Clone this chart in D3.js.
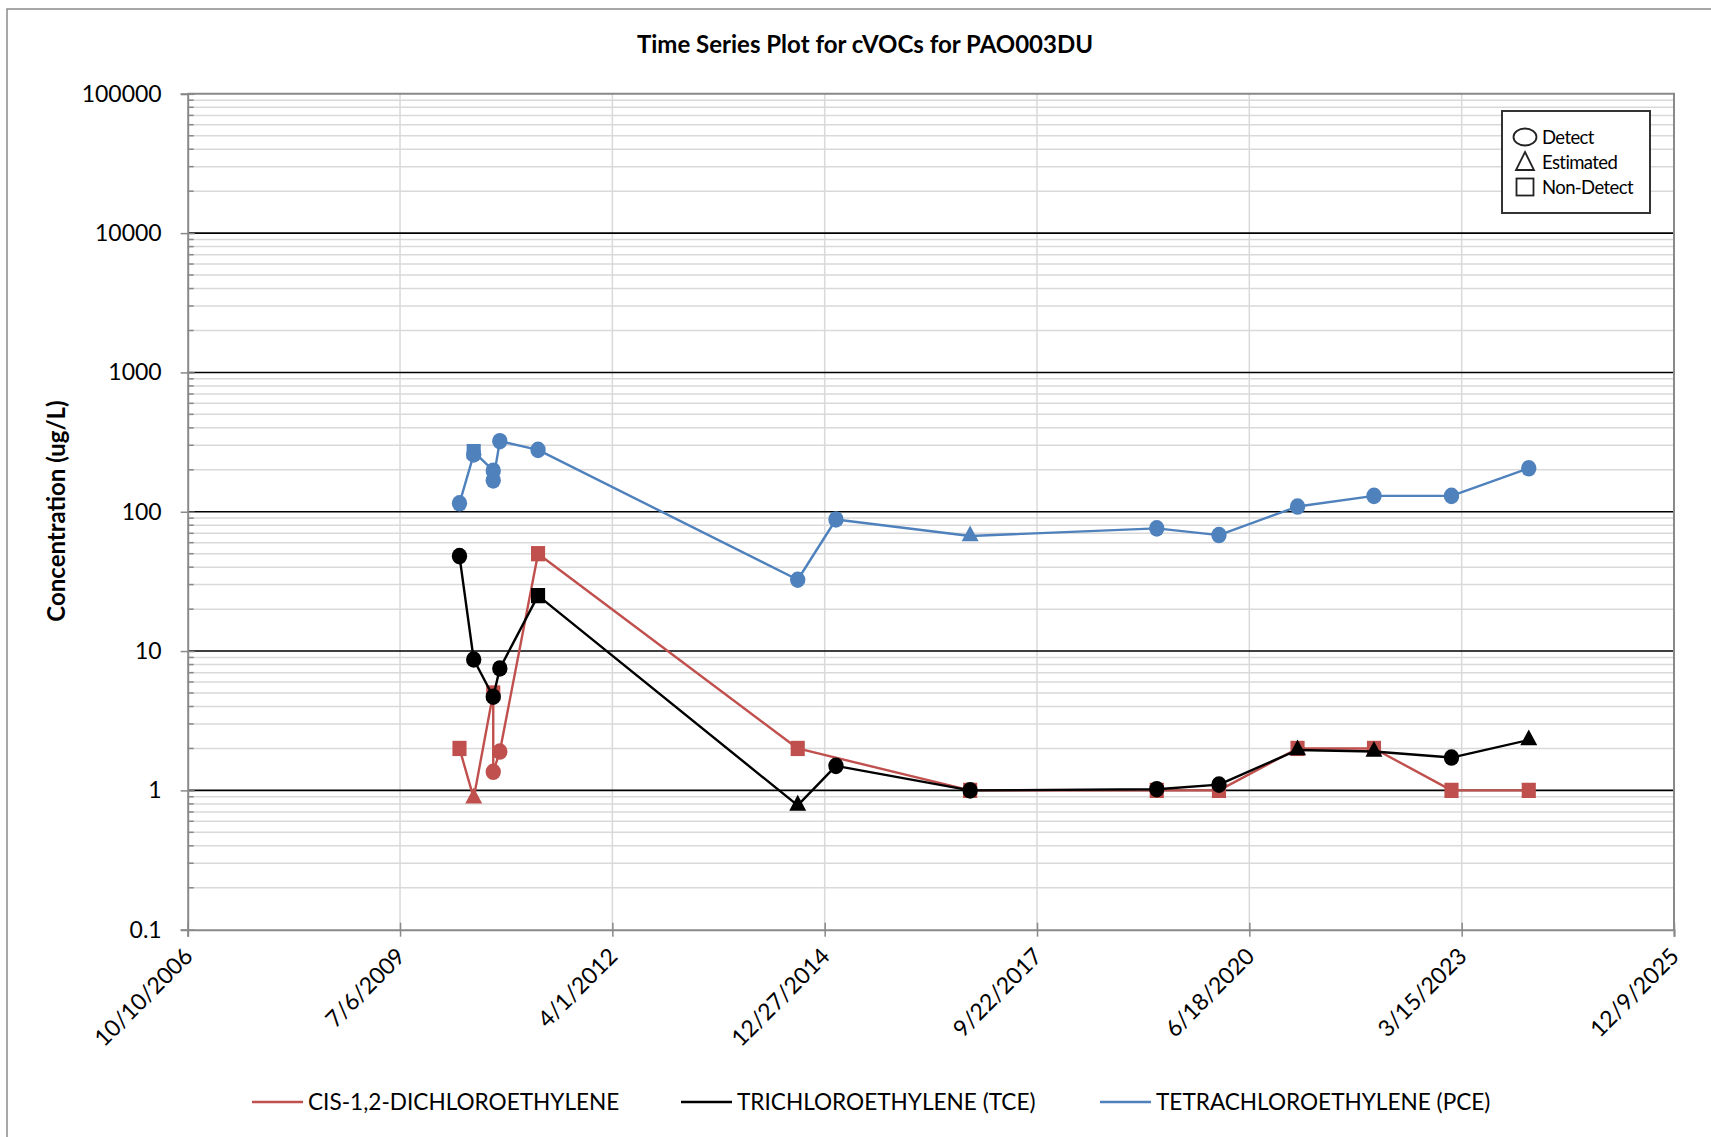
<!DOCTYPE html>
<html>
<head>
<meta charset="utf-8">
<script src="https://cdn.jsdelivr.net/npm/d3@7"></script>
<style>
  html, body { margin: 0; padding: 0; background: #fff; }
  svg { display: block; }
  text { font-family: Lato, "Open Sans", sans-serif; fill: #000; }
</style>
</head>
<body>
<svg id="chart" width="1711" height="1137"></svg>
<script>
// ---------------- DATA ----------------
const chartTitle = "Time Series Plot for cVOCs for PAO003DU";
const yAxisTitle = "Concentration (ug/L)";

const xTickLabels = ["10/10/2006", "7/6/2009", "4/1/2012", "12/27/2014", "9/22/2017", "6/18/2020", "3/15/2023", "12/9/2025"];
const yTickValues = [0.1, 1, 10, 100, 1000, 10000, 100000];
const yTickLabels = ["0.1", "1", "10", "100", "1000", "10000", "100000"];

const seriesNames = ["CIS-1,2-DICHLOROETHYLENE", "TRICHLOROETHYLENE (TCE)", "TETRACHLOROETHYLENE (PCE)"];
const seriesColors = ["#C0504D", "#000000", "#4F81BD"];

// flags: D = Detect (circle), E = Estimated (triangle), N = Non-Detect (square)
const dceDates  = ["2010-04-12", "2010-06-18", "2010-09-18", "2010-09-18", "2010-10-19", "2011-04-17", "2014-08-22", "2016-11-11", "2019-04-09", "2020-01-27", "2021-01-31", "2022-01-26", "2023-01-26", "2024-01-25"];
const dceValues = [2, 0.88, 5, 1.36, 1.9, 50, 2, 1, 1, 1, 2, 2, 1, 1];
const dceFlags  = ["N", "E", "N", "D", "D", "N", "N", "N", "N", "N", "N", "N", "N", "N"];

const tceDates  = ["2010-04-12", "2010-06-18", "2010-09-18", "2010-10-19", "2011-04-17", "2014-08-22", "2015-02-18", "2016-11-11", "2019-04-09", "2020-01-27", "2021-01-31", "2022-01-26", "2023-01-26", "2024-01-25"];
const tceValues = [48, 8.7, 4.7, 7.5, 25, 0.78, 1.5, 1.0, 1.02, 1.1, 1.95, 1.9, 1.72, 2.3];
const tceFlags  = ["D", "D", "D", "D", "N", "E", "D", "D", "D", "D", "E", "E", "D", "E"];

const pceDates  = ["2010-04-12", "2010-06-18", "2010-06-18", "2010-09-18", "2010-09-18", "2010-10-19", "2011-04-17", "2014-08-22", "2015-02-18", "2016-11-11", "2019-04-09", "2020-01-27", "2021-01-31", "2022-01-26", "2023-01-26", "2024-01-25"];
const pceValues = [115, 258, 270, 197, 168, 321, 278, 32.5, 88, 67, 76, 68, 109, 130, 130, 205];
const pceFlags  = ["D", "D", "N", "D", "D", "D", "D", "D", "D", "E", "D", "D", "D", "D", "D", "D"];

const qualifierLabels = ["Detect", "Estimated", "Non-Detect"];

// ---------------- LAYOUT ----------------
const svg = d3.select("#chart");
const parseTick = d3.utcParse("%m/%d/%Y");
const parseISO = d3.utcParse("%Y-%m-%d");
const fmtTick = d3.utcFormat("%-m/%-d/%Y");

const plot = { left: 187.7, right: 1674, top: 93.8, bottom: 929.7 };
const tickDates = xTickLabels.map(parseTick);

const x = d3.scaleUtc().domain([tickDates[0], tickDates[tickDates.length - 1]]).range([plot.left, plot.right]);
const y = d3.scaleLog().domain([0.1, 100000]).range([plot.bottom, plot.top]);

// outer chart border
svg.append("rect").attr("x", 7).attr("y", 9).attr("width", 1800).attr("height", 1300)
  .attr("fill", "none").attr("stroke", "#8c8c8c").attr("stroke-width", 1.5);

// minor horizontal gridlines
const minorVals = [];
for (let e = -1; e < 5; e++) for (let m = 2; m <= 9; m++) minorVals.push(m * Math.pow(10, e));
svg.append("g").selectAll("line").data(minorVals).join("line")
  .attr("x1", plot.left).attr("x2", plot.right)
  .attr("y1", d => y(d)).attr("y2", d => y(d))
  .attr("stroke", "#d9d9d9").attr("stroke-width", 1.5);

// vertical gridlines
svg.append("g").selectAll("line").data(tickDates.slice(1, -1)).join("line")
  .attr("x1", d => x(d)).attr("x2", d => x(d))
  .attr("y1", plot.top).attr("y2", plot.bottom)
  .attr("stroke", "#d9d9d9").attr("stroke-width", 1.5);

// major horizontal gridlines
svg.append("g").selectAll("line").data(yTickValues.slice(1, -1)).join("line")
  .attr("x1", plot.left).attr("x2", plot.right)
  .attr("y1", d => y(d)).attr("y2", d => y(d))
  .attr("stroke", "#000").attr("stroke-width", 1.6);

// plot border top/right
svg.append("path")
  .attr("d", `M${plot.left},${plot.top}H${plot.right}V${plot.bottom}`)
  .attr("fill", "none").attr("stroke", "#898989").attr("stroke-width", 2);

// minor ticks on y axis (inside)
svg.append("g").selectAll("line").data(minorVals).join("line")
  .attr("x1", plot.left).attr("x2", plot.left + 6)
  .attr("y1", d => y(d)).attr("y2", d => y(d))
  .attr("stroke", "#898989").attr("stroke-width", 1.5);

// Y axis
const yAxis = svg.append("g").attr("transform", `translate(${plot.left},0)`)
  .call(d3.axisLeft(y).tickValues(yTickValues).tickFormat((d, i) => yTickLabels[i]).tickSize(7).tickPadding(19));
yAxis.select(".domain").attr("stroke", "#898989").attr("stroke-width", 2);
yAxis.selectAll(".tick line").attr("stroke", "#898989").attr("stroke-width", 1.5).attr("x2", -7).attr("x1", 7);
yAxis.selectAll(".tick text").attr("font-family", "Lato").attr("font-size", 23).attr("fill", "#000");

// X axis
const xAxis = svg.append("g").attr("transform", `translate(0,${plot.bottom})`)
  .call(d3.axisBottom(x).tickValues(tickDates).tickFormat(fmtTick).tickSize(7).tickPadding(6));
xAxis.select(".domain").attr("stroke", "#898989").attr("stroke-width", 2);
xAxis.selectAll(".tick line").attr("stroke", "#898989").attr("stroke-width", 1.5).attr("y1", -7).attr("y2", 7);
xAxis.selectAll(".tick text")
  .attr("font-family", "Lato").attr("font-size", 23).attr("fill", "#000")
  .attr("text-anchor", "end")
  .attr("dy", 0).attr("y", 0)
  .attr("transform", "translate(6,28) rotate(-45)");

// Title
svg.append("text").attr("x", 865).attr("y", 53).attr("text-anchor", "middle")
  .attr("font-weight", "bold").attr("font-size", 24).text(chartTitle);

// Y axis title
svg.append("text").attr("transform", "translate(65,511) rotate(-90)")
  .attr("text-anchor", "middle").attr("font-weight", "bold").attr("font-size", 24).text(yAxisTitle);

// ---------------- SERIES ----------------
const series = [
  { dates: dceDates, values: dceValues, flags: dceFlags },
  { dates: tceDates, values: tceValues, flags: tceFlags },
  { dates: pceDates, values: pceValues, flags: pceFlags }
].map((s, i) => ({
  name: seriesNames[i], color: seriesColors[i],
  pts: s.dates.map((d, j) => ({ date: parseISO(d), value: s.values[j], flag: s.flags[j] }))
}));

const line = d3.line().x(d => x(d.date)).y(d => y(d.value));
const symFor = f => f === "D" ? d3.symbol(d3.symbolCircle, 185)
  : f === "E" ? d3.symbol(d3.symbolTriangle, 125)
  : d3.symbol(d3.symbolSquare, 200);

series.forEach(s => {
  const g = svg.append("g");
  g.append("path").datum(s.pts).attr("d", line)
    .attr("fill", "none").attr("stroke", s.color).attr("stroke-width", 2.4).attr("stroke-linejoin", "round");
  g.selectAll("path.m").data(s.pts).join("path").attr("class", "m")
    .attr("transform", d => `translate(${x(d.date)},${y(d.value)}) scale(1,1.08)`)
    .attr("d", d => symFor(d.flag)())
    .attr("fill", s.color);
});

// ---------------- QUALIFIER LEGEND ----------------
const ql = svg.append("g");
ql.append("rect").attr("x", 1502).attr("y", 111).attr("width", 148).attr("height", 102)
  .attr("fill", "#fff").attr("stroke", "#333").attr("stroke-width", 2);
const qShapes = [
  g => g.append("ellipse").attr("cx", 0).attr("cy", 0).attr("rx", 11.5).attr("ry", 8.5),
  g => g.append("path").attr("d", "M0,-10L9,8L-9,8Z"),
  g => g.append("rect").attr("x", -8.5).attr("y", -8.5).attr("width", 17).attr("height", 17)
];
qualifierLabels.forEach((lab, i) => {
  const cy = 137 + i * 25;
  const g = ql.append("g").attr("transform", `translate(1525,${cy})`);
  qShapes[i](g).attr("fill", "none").attr("stroke", "#222").attr("stroke-width", 1.8);
  ql.append("text").attr("x", 1542).attr("y", cy + 7)
    .attr("font-family", "Liberation Sans, Arial, sans-serif").attr("font-size", 18.5)
    .attr("letter-spacing", -0.6).text(lab);
});

// ---------------- SERIES LEGEND ----------------
const legX = [252, 681, 1100];
seriesNames.forEach((n, i) => {
  svg.append("line").attr("x1", legX[i]).attr("x2", legX[i] + 51).attr("y1", 1102).attr("y2", 1102)
    .attr("stroke", seriesColors[i]).attr("stroke-width", 2.4);
  svg.append("text").attr("x", legX[i] + 56).attr("y", 1110).attr("font-size", 22.6).text(n);
});
</script>
</body>
</html>
